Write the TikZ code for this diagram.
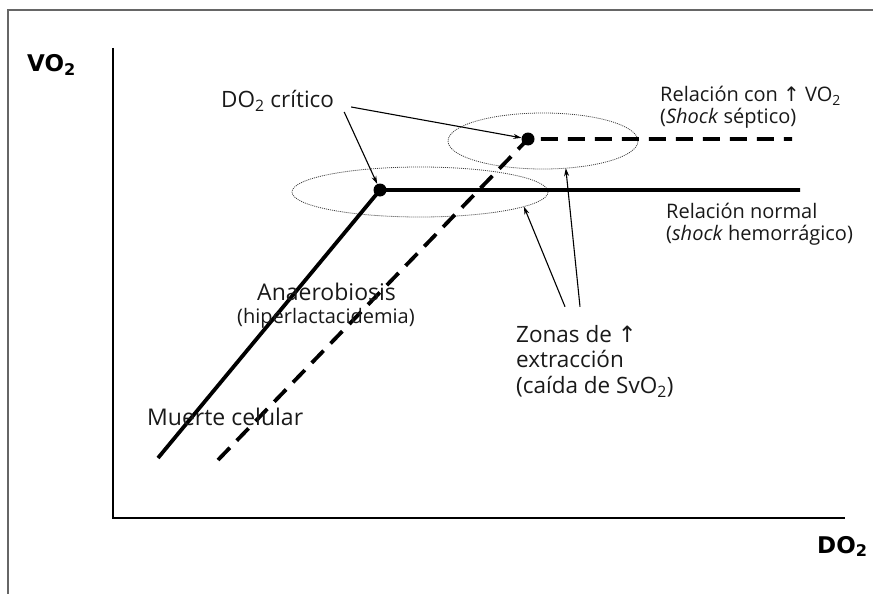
\documentclass[tikz,border=0pt]{standalone}
\usepackage{fontspec}
\setmainfont{Open Sans}
\newfontfamily\axisfont{DejaVu Sans}
\newfontfamily\symfont{DejaVu Sans}
\usetikzlibrary{arrows.meta,shapes.geometric}
\newcommand{\two}{\textsubscript{2}}
\newcommand{\up}{{\symfont\char"2191}}

\begin{document}
\begin{tikzpicture}[x=1pt,y=-1pt,
    curve/.style={line width=3.8pt},
    dashcurve/.style={curve,dash pattern=on 17pt off 10pt},
    dot/.style={circle,fill,inner sep=0pt,minimum size=13pt},
    zone/.style={ellipse,draw=black!75,dash pattern=on 1pt off 1pt,line width=0.8pt,inner sep=0pt,outer sep=0pt},
    pointer/.style={-{Stealth[length=8pt,width=5pt]},line width=1.1pt},
    txt/.style={text=black!90,inner sep=0pt,anchor=base west,align=left},
    axlabel/.style={inner sep=0pt,anchor=base west,font=\axisfont\bfseries\fontsize{23}{27}\selectfont}]
    \useasboundingbox (0,0) rectangle (873,594);
    \draw[black!60,line width=1.5pt] (8,594) -- (8,10) -- (873,10);
    \draw[line width=2.6pt] (113,48) -- (113,518) -- (845,518);
    \node[axlabel] (vo) at (27,72) {VO\two};
    \node[axlabel] (do) at (817,553) {DO\two};
    \node[zone,minimum width=256pt,minimum height=50pt] (zoneS) at (420,192) {};
    \node[zone,minimum width=190pt,minimum height=56pt] (zoneN) at (543,141) {};
    \coordinate (normstart) at (158,458);
    \coordinate (normend) at (800,190);
    \coordinate (septstart) at (218,460);
    \coordinate (septend) at (792,139);
    \node[dot] (critS) at (380,190) {};
    \node[dot] (critN) at (528,139) {};
    \draw[curve] (normstart) -- (critS.center) -- (normend);
    \draw[dashcurve] (septstart) -- (critN.center) -- (septend);
    \node[txt,font=\fontsize{22.5}{26}\selectfont] (crit) at (221,107) {DO\two{} crítico};
    \node[txt,font=\fontsize{20}{21}\selectfont] (sept) at (660,123) {Relación con \up{} VO\two\\(\textit{Shock} séptico)};
    \node[txt,font=\fontsize{20}{22}\selectfont] (norm) at (666,240) {Relación normal\\(\textit{shock} hemorrágico)};
    \node[txt,font=\fontsize{22.5}{25.5}\selectfont] (zonas) at (516,393) {Zonas de \up\\extracción\\(caída de SvO\two)};
    \node[txt,font=\fontsize{23}{27}\selectfont] (anaer) at (257,300) {Anaerobiosis};
    \node[txt,font=\fontsize{20}{24}\selectfont] (hiper) at (237,323) {(hiperlactacidemia)};
    \node[txt,font=\fontsize{23}{27}\selectfont] (muerte) at (147,425) {Muerte celular};
    \draw[pointer] ([xshift=10pt,yshift=-5pt]crit.base east) -- (critS);
    \draw[pointer] ([xshift=17pt]crit.base east) -- (critN);
    \draw[pointer] ([xshift=49pt,yshift=18pt]zonas.north west) -- (zoneS.-8);
    \draw[pointer] ([xshift=64pt,yshift=18pt]zonas.north west) -- (zoneN.-50);
\end{tikzpicture}
\end{document}
